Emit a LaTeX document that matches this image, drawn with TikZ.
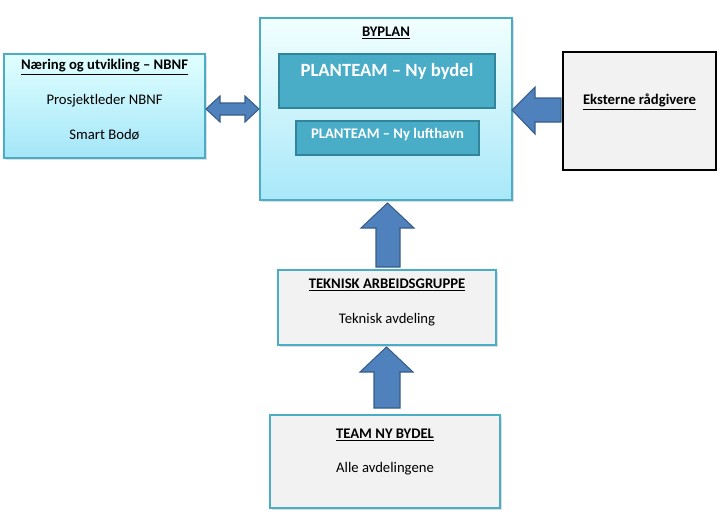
\documentclass[tikz,border=0pt]{standalone}
\usepackage{fontspec}
\setmainfont{Carlito}
\usetikzlibrary{shadows}
\definecolor{tealb}{HTML}{4BACC6}
\definecolor{tealdk}{HTML}{31849B}
\definecolor{tealfill}{HTML}{4AADC8}
\definecolor{arrfill}{HTML}{4F81BD}
\definecolor{arrline}{HTML}{385D8A}
\definecolor{greyfill}{HTML}{F2F2F2}
\begin{document}
\begin{tikzpicture}[x=0.75pt,y=-0.75pt,
  box/.style={rectangle,draw=tealb,line width=0.8pt,inner sep=0pt,
    drop shadow={opacity=0.25,shadow xshift=1.2pt,shadow yshift=-1.2pt}},
  cyanbox/.style={box,top color=#1,bottom color=cyan!30!white!90!blue},
  greybox/.style={box,fill=greyfill},
  teambox/.style={rectangle,draw=tealdk,line width=2pt,fill=tealfill,inner sep=0pt},
  lbl/.style={font=\fontsize{11}{13}\selectfont,text=black},
  hdr/.style={font=\fontsize{11}{13}\selectfont\bfseries,text=black},
  blk/.style={fill=arrfill,draw=arrline,line width=0.8pt,line join=miter}]
\useasboundingbox (0,0) rectangle (722,514);
% NBNF box
\node[box,top color=cyan!12!white,bottom color={rgb,255:red,164;green,230;blue,248},
  minimum width=201*0.75pt,minimum height=104*0.75pt] (nbnf) at (104.5,106) {};
\node[hdr] (nbnfh) at (104.5,67) {\underline{Næring og utvikling – NBNF}};
\node[lbl] (nbnf1) at (104.5,101) {Prosjektleder NBNF};
\node[lbl] (nbnf2) at (104.5,135) {Smart Bodø};
% BYPLAN box
\node[box,top color=cyan!5!white,bottom color={rgb,255:red,168;green,232;blue,249},
  minimum width=252*0.75pt,minimum height=182*0.75pt] (byplan) at (386,109) {};
\node[hdr] (byplanh) at (386,33) {\underline{BYPLAN}};
\node[teambox,minimum width=216*0.75pt,minimum height=54*0.75pt] (pt1) at (387,81) {};
\node[font=\fontsize{14}{16}\selectfont\bfseries,text=white] (pt1t) at (387,71) {PLANTEAM – Ny bydel};
\node[teambox,minimum width=183*0.75pt,minimum height=34*0.75pt] (pt2) at (387.5,138) {};
\node[font=\fontsize{11}{13}\selectfont\bfseries,text=white] (pt2t) at (387.5,135) {PLANTEAM – Ny lufthavn};
% Eksterne
\node[rectangle,draw=black,line width=0.8pt,fill=greyfill,inner sep=0pt,
  minimum width=153*0.75pt,minimum height=118*0.75pt] (ext) at (639.5,111) {};
\node[hdr] (extt) at (639.5,102) {\underline{Eksterne rådgivere}};
% Teknisk
\node[greybox,minimum width=218*0.75pt,minimum height=75*0.75pt] (tek) at (387,307.5) {};
\node[hdr] (tekh) at (387,285) {\underline{TEKNISK ARBEIDSGRUPPE}};
\node[lbl] (tek1) at (387,320) {Teknisk avdeling};
% Team ny bydel
\node[greybox,minimum width=230*0.75pt,minimum height=93*0.75pt] (team) at (385,461.5) {};
\node[hdr] (teamh) at (385,435) {\underline{TEAM NY BYDEL}};
\node[lbl] (team1) at (385,469) {Alle avdelingene};
% block arrows
% double arrow NBNF <-> BYPLAN
\draw[blk] (206,109) -- (220,96) -- (220,103) -- (245,103) -- (245,96) -- (259,109)
  -- (245,122) -- (245,115) -- (220,115) -- (220,122) -- cycle;
% left arrow from Eksterne
\draw[blk] (512,110) -- (535,87) -- (535,98) -- (561,98) -- (561,122) -- (535,122) -- (535,134) -- cycle;
% up arrow Teknisk -> Byplan
\draw[blk] (387.5,203) -- (414,228) -- (400,228) -- (400,267) -- (376,267) -- (376,228) -- (361,228) -- cycle;
% up arrow Team -> Teknisk
\draw[blk] (386.5,347) -- (413,372) -- (400,372) -- (400,408) -- (374,408) -- (374,372) -- (360,372) -- cycle;
\end{tikzpicture}
\end{document}
